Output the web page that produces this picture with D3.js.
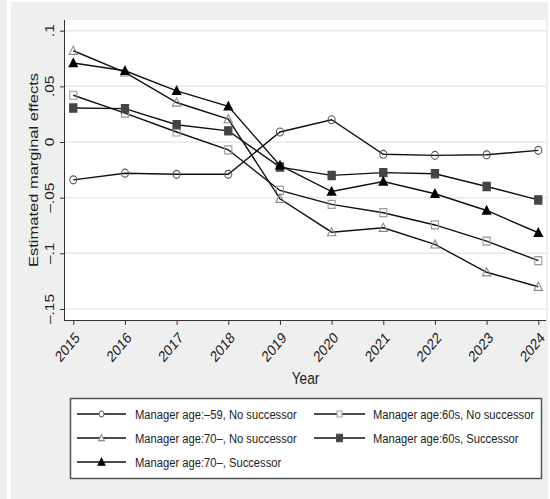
<!DOCTYPE html>
<html>
<head>
<meta charset="utf-8">
<script src="https://cdn.jsdelivr.net/npm/d3@7"></script>
<style>
  html, body { margin: 0; padding: 0; background: #fff; }
  svg { display: block; font-family: "Liberation Sans", Arial, Helvetica, sans-serif; }
</style>
</head>
<body>
<div id="chart"></div>
<script>
// data
const years = [2015, 2016, 2017, 2018, 2019, 2020, 2021, 2022, 2023, 2024];
const age59No   = [-0.034, -0.028, -0.029, -0.029, 0.009, 0.020, -0.011, -0.012, -0.0115, -0.0075];
const age60No   = [0.042, 0.026, 0.009, -0.007, -0.0435, -0.056, -0.0635, -0.0745, -0.089, -0.1065];
const age70No   = [0.082, 0.0625, 0.0355, 0.0205, -0.051, -0.081, -0.077, -0.092, -0.117, -0.130];
const age60Succ = [0.0305, 0.030, 0.0155, 0.010, -0.0225, -0.030, -0.0275, -0.0285, -0.040, -0.052];
const age70Succ = [0.071, 0.064, 0.046, 0.032, -0.021, -0.0445, -0.0355, -0.0465, -0.0615, -0.0815];
const seriesNames = [
  "Manager age:\u201359, No successor",
  "Manager age:60s, No successor",
  "Manager age:70\u2013, No successor",
  "Manager age:60s, Successor",
  "Manager age:70\u2013, Successor"
];
const yTicks = [0.1, 0.05, 0, -0.05, -0.1, -0.15];
const yTickLabels = [".1", ".05", "0", "\u2013.05", "\u2013.1", "\u2013.15"];

const width = 550, height = 499;
const K = 0.83; // picture is squeezed sideways, text too
const plot = {left: 65, right: 546, top: 20, bottom: 320};

const svg = d3.select("#chart").append("svg")
  .attr("width", width).attr("height", height);

// backgrounds
svg.append("rect").attr("x", 0).attr("y", 0).attr("width", 7).attr("height", height).attr("fill", "#efefef");
svg.append("rect").attr("x", 11).attr("y", 2).attr("width", 537).attr("height", height - 2).attr("fill", "#efefef");
svg.append("rect").attr("x", plot.left).attr("y", plot.top)
  .attr("width", plot.right - plot.left).attr("height", plot.bottom - plot.top).attr("fill", "#fff");

const x = d3.scaleLinear().domain([2015, 2024]).range([73.3, 538.3]);
const y = d3.scaleLinear().domain([-0.15, 0.1]).range([309, 30.7]);

// grid
svg.append("g").selectAll("line").data(yTicks).join("line")
  .attr("x1", plot.left).attr("x2", plot.right)
  .attr("y1", d => y(d)).attr("y2", d => y(d))
  .attr("stroke", "#e8e8e8").attr("stroke-width", 1.5);

function txt(g, tx, ty, s, size, rot, anchor) {
  return g.append("text")
    .attr("transform", `translate(${tx},${ty}) scale(${K},1) rotate(${rot || 0})`)
    .attr("text-anchor", anchor || "start")
    .style("font-size", size + "px")
    .attr("fill", "#222")
    .text(s);
}

// y axis
const yAxis = d3.axisLeft(y).tickValues(yTicks).tickSize(5).tickFormat("");
const gy = svg.append("g").attr("transform", `translate(${plot.left},0)`).call(yAxis);
gy.select(".domain").attr("d", `M-0.5,${plot.top}V${plot.bottom}`).attr("stroke", "#333");
gy.selectAll(".tick line").attr("stroke", "#333");
yTicks.forEach((t, i) => txt(svg, 54, y(t), yTickLabels[i], 15.5, -90, "middle"));

// x axis
const xAxis = d3.axisBottom(x).tickValues(years).tickSize(5).tickFormat("");
const gx = svg.append("g").attr("transform", `translate(0,${plot.bottom})`).call(xAxis);
gx.select(".domain").attr("d", `M${plot.left - 1},0.5H${plot.right}`).attr("stroke", "#333");
gx.selectAll(".tick line").attr("stroke", "#333");
years.forEach(yr => {
  txt(svg, x(yr) + 1, plot.bottom + 11, String(yr), 15.5, -45, "end").attr("dy", "0.7em");
});

// axis titles
txt(svg, 38, (plot.top + plot.bottom) / 2, "Estimated marginal effects", 16.5, -90, "middle");
txt(svg, (plot.left + plot.right) / 2, 384, "Year", 16.5, 0, "middle");

// markers
const tri = {
  draw(c, s) {
    const w = Math.sqrt(s) / 2;
    c.moveTo(0, -w * 0.95);
    c.lineTo(w, w * 0.75);
    c.lineTo(-w, w * 0.75);
    c.closePath();
  }
};
const styles = [
  {type: d3.symbolCircle, size: 50, fill: "none", stroke: "#555"},
  {type: d3.symbolSquare, size: 64, fill: "none", stroke: "#999"},
  {type: tri, size: 90, fill: "none", stroke: "#888"},
  {type: d3.symbolSquare, size: 68, fill: "#444", stroke: "#444"},
  {type: tri, size: 90, fill: "#000", stroke: "#000"}
];
const allSeries = [age59No, age60No, age70No, age60Succ, age70Succ];

const line = d3.line().x((d, i) => x(years[i])).y(d => y(d));

allSeries.forEach((vals, si) => {
  const st = styles[si];
  svg.append("path").datum(vals)
    .attr("fill", "none").attr("stroke", "#111").attr("stroke-width", 1.4)
    .attr("d", line);
  svg.append("g").selectAll("path").data(vals).join("path")
    .attr("transform", (d, i) => `translate(${x(years[i])},${y(d)}) scale(${K + 0.05},1)`)
    .attr("d", d3.symbol().type(st.type).size(st.size))
    .attr("fill", st.fill).attr("stroke", st.stroke).attr("stroke-width", 1.2);
});

// legend
const lg = svg.append("g");
lg.append("rect").attr("x", 70.5).attr("y", 398.5).attr("width", 471).attr("height", 80)
  .attr("fill", "#fff").attr("stroke", "#555").attr("stroke-width", 1.5);
const cols = [{x0: 77, x1: 126, tx: 135}, {x0: 314, x1: 365, tx: 373}];
seriesNames.forEach((name, i) => {
  const c = cols[i % 2];
  const ry = 414 + Math.floor(i / 2) * 24;
  const st = styles[i];
  lg.append("line").attr("x1", c.x0).attr("x2", c.x1).attr("y1", ry).attr("y2", ry)
    .attr("stroke", "#111").attr("stroke-width", 1.4);
  lg.append("path")
    .attr("transform", `translate(${(c.x0 + c.x1) / 2},${ry}) scale(${K},1)`)
    .attr("d", d3.symbol().type(st.type).size(st.size * (st.fill === "none" ? 0.55 : 0.8)))
    .attr("fill", st.fill === "none" ? "#fff" : st.fill).attr("stroke", st.stroke).attr("stroke-width", 1.1);
  txt(lg, c.tx, ry + 5, name, 13.5, 0, "start");
});
</script>
</body>
</html>
